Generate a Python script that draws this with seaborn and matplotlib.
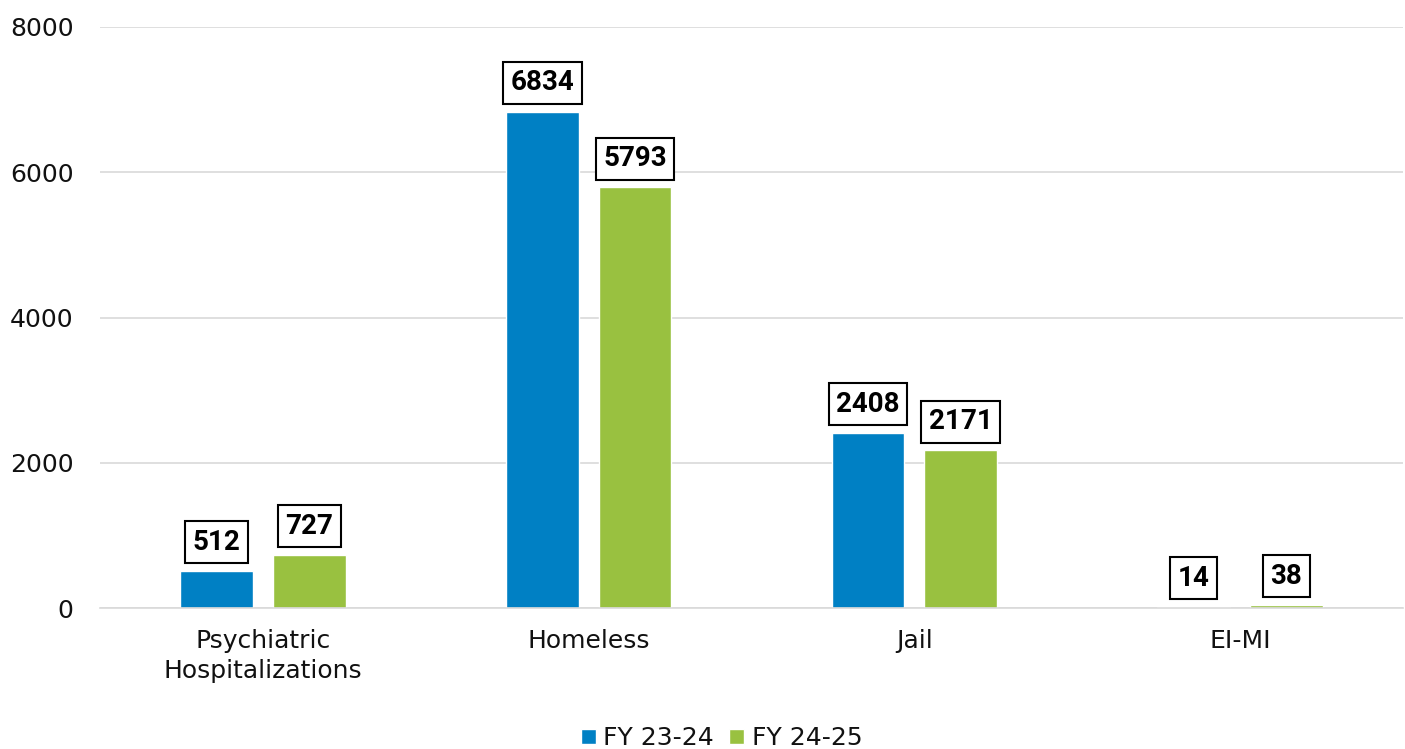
import pandas as pd
import matplotlib.pyplot as plt
import seaborn as sns

categories = ['Psychiatric\nHospitalizations', 'Homeless', 'Jail', 'EI-MI']
fy2324 = [512, 6834, 2408, 14]
fy2425 = [727, 5793, 2171, 38]
series = ['FY 23-24', 'FY 24-25']
colors = ['#0080C4', '#99C140']

df = pd.DataFrame({
    'cat': categories * 2,
    'val': fy2324 + fy2425,
    'fy': [series[0]] * 4 + [series[1]] * 4,
})

sns.set_style('white')
plt.rcParams['font.family'] = ['DejaVu Sans']
plt.rcParams['text.color'] = '#111111'

fig = plt.figure(figsize=(14.05, 7.49), dpi=100)
ax = fig.add_axes([100 / 1405, 1 - 608 / 749, 1303 / 1405, (608 - 27) / 749])

sns.barplot(data=df, x='cat', y='val', hue='fy', palette=colors, width=0.57, gap=0.215,
            ax=ax, saturation=1, legend=True)

ax.set_ylim(0, 8000)
ax.set_yticks([0, 2000, 4000, 6000, 8000])
ax.yaxis.grid(True, color='#D9D9D9', linewidth=1.2)
ax.set_axisbelow(True)
for s in ['top', 'right', 'left']:
    ax.spines[s].set_visible(False)
ax.spines['bottom'].set_color('#D9D9D9')
ax.spines['bottom'].set_linewidth(1.2)
ax.tick_params(axis='both', length=0, labelsize=18, colors='#111111')
ax.tick_params(axis='y', pad=19)
ax.tick_params(axis='x', pad=15)
for t in ax.get_xticklabels():
    t.set_linespacing(1.3)
ax.set_xlabel('')
ax.set_ylabel('')

for cont in ax.containers:
    labels = [f'{int(v)}' for v in cont.datavalues]
    texts = ax.bar_label(cont, labels=labels, padding=11, fontsize=20, fontweight='bold',
                         color='black', family=['Roboto', 'DejaVu Sans'])
    for t in texts:
        t.set_bbox(dict(boxstyle='square,pad=0.27', facecolor='white', edgecolor='black', linewidth=1.5))

leg = ax.legend(loc='upper center', bbox_to_anchor=(0.477, -0.165), ncol=2, frameon=False,
                fontsize=18, handlelength=0.6, handleheight=0.6, handletextpad=0.3, columnspacing=0.6)
for t in leg.get_texts():
    t.set_color('#111111')

fig.savefig('out.png', dpi=100)
